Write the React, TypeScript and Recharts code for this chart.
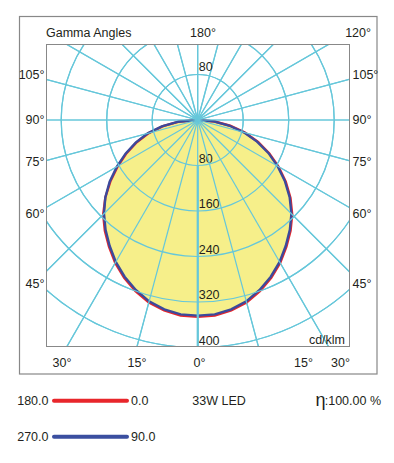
import React from 'react';
import { RadarChart, Radar, PolarGrid, PolarAngleAxis, PolarRadiusAxis } from 'recharts';

// gamma angles (deg) of the measured intensities, cd/klm
const gammaAngles = [0, 5, 10, 15, 20, 25, 30, 35, 40, 45, 50, 55, 60, 65, 70, 75, 80, 85, 90];
const c0 = [346, 345, 340, 332, 320, 306, 290, 272, 254, 235, 213, 189, 164, 139, 113, 86, 58, 30, 0];
const c180 = [346, 345, 340, 332, 320, 306, 290, 272, 254, 235, 212, 187, 162, 138, 114, 89, 62, 33, 0];
const c90 = [344, 343, 338, 330, 318, 304, 288, 270, 252, 233, 211, 187, 162, 137, 111, 84, 56, 28, 0];
const c270 = [344, 343, 338, 330, 318, 304, 288, 270, 252, 233, 212, 189, 164, 140, 116, 91, 64, 34, 0];

const radiusTicks = [80, 160, 240, 320, 400];
const gridAngles = [0, 15, 30, 45, 60, 75, 90, 105, 120, 135, 150, 165, 180, 195, 210, 225, 240, 255, 270, 285, 300, 315, 330, 345];

const sideLabels = ['105°', '90°', '75°', '60°', '45°'];
const bottomLabels = ['30°', '15°', '0°', '15°', '30°'];
const topLabels = ['180°', '120°'];

// one row per 5 deg around the full circle, 0 = straight down, going round to the right
const positions = Array.from({ length: 72 }, (_, i) => i * 5);
const rows = positions.map((pos) => {
  if (pos <= 90) {
    const k = gammaAngles.indexOf(pos);
    return { pos, red: c0[k], blue: c90[k] };
  }
  if (pos >= 270) {
    const k = gammaAngles.indexOf(360 - pos);
    return { pos, red: c180[k], blue: c270[k] };
  }
  return { pos, red: 0, blue: 0 };
});

const FONT = '"Liberation Sans", Arial, sans-serif';
const GRID = '#66c7da';
const TEXT = '#231f20';

const RadiusTick = (props: any) => {
  const { x, y, payload } = props;
  return (
    <text x={x + 1} y={y - 3} fontSize={12.5} fill={TEXT} fontFamily={FONT} textAnchor="start">
      {payload.value}
    </text>
  );
};

const layer: React.CSSProperties = { position: 'absolute', left: 46, top: 44, width: 304, height: 303, overflow: 'hidden' };

export default function App() {
  const sideY = [78.5, 124, 166, 217.5, 287.5];
  const bottomX = [62, 137, 199.5, 303.5, 340.5];

  return (
    <div style={{ position: 'absolute', left: 0, top: 0, width: 394, height: 463, background: '#fff' }}>
      <div style={layer}>
        <RadarChart
          width={304}
          height={303}
          data={rows}
          cx={151.7}
          cy={76}
          innerRadius={0}
          outerRadius={284.4}
          startAngle={-90}
          endAngle={270}
          margin={{ top: 0, right: 0, bottom: 0, left: 0 }}
        >
          <PolarAngleAxis
            dataKey="pos"
            type="number"
            domain={[0, 360]}
            tick={false}
            tickLine={false}
            axisLine={false}
          />
          <Radar dataKey="red" stroke="none" fill="#f6ef8a" fillOpacity={1} isAnimationActive={false} />
          <PolarGrid gridType="circle" polarAngles={gridAngles} stroke={GRID} strokeWidth={1.2} />
          <PolarRadiusAxis
            angle={-90}
            type="number"
            domain={[0, 500]}
            ticks={radiusTicks}
            tick={RadiusTick}
            tickLine={false}
            axisLine={{ stroke: GRID, strokeWidth: 1.8 }}
          />
          <Radar dataKey="red" stroke="#e8262b" strokeWidth={2.4} fill="none" fillOpacity={0} isAnimationActive={false} />
          <Radar dataKey="blue" stroke="#3b4a9c" strokeWidth={2.4} fill="none" fillOpacity={0} isAnimationActive={false} />
        </RadarChart>
      </div>

      {/* grid again on a transparent layer so it shows through the yellow */}
      <div style={layer}>
        <RadarChart
          width={304}
          height={303}
          data={rows}
          cx={151.7}
          cy={76}
          innerRadius={0}
          outerRadius={284.4}
          startAngle={-90}
          endAngle={270}
          margin={{ top: 0, right: 0, bottom: 0, left: 0 }}
        >
          <PolarAngleAxis dataKey="pos" type="number" domain={[0, 360]} tick={false} tickLine={false} axisLine={false} />
          <PolarGrid gridType="circle" polarAngles={gridAngles} stroke={GRID} strokeWidth={1.2} />
          <PolarRadiusAxis
            angle={-90}
            type="number"
            domain={[0, 500]}
            ticks={radiusTicks}
            tick={false}
            tickLine={false}
            axisLine={{ stroke: GRID, strokeWidth: 1.8 }}
          />
          <Radar dataKey="blue" stroke="none" fill="none" fillOpacity={0} isAnimationActive={false} />
        </RadarChart>
      </div>

      <svg
        width={394}
        height={463}
        style={{ position: 'absolute', left: 0, top: 0, pointerEvents: 'none' }}
        fontFamily={FONT}
        fontSize={12.5}
        fill={TEXT}
      >
        <rect x={19.5} y={16.5} width={357.5} height={357.5} fill="none" stroke="#888" strokeWidth={1.2} />
        <rect x={46.5} y={44.5} width={303} height={302} fill="none" stroke="#888" strokeWidth={1} />

        <text x={46} y={36.5}>Gamma Angles</text>
        <text x={203} y={36.5} textAnchor="middle">{topLabels[0]}</text>
        <text x={371} y={36.5} textAnchor="end">{topLabels[1]}</text>
        <text x={198.7} y={71}>80</text>

        {sideLabels.map((s, i) => (
          <text key={'l' + s} x={44.5} y={sideY[i]} textAnchor="end">{s}</text>
        ))}
        {sideLabels.map((s, i) => (
          <text key={'r' + s} x={352.5} y={sideY[i]} textAnchor="start">{s}</text>
        ))}
        {bottomLabels.map((s, i) => (
          <text key={'b' + i} x={bottomX[i]} y={366.5} textAnchor="middle">{s}</text>
        ))}
        <text x={345} y={343.5} textAnchor="end">cd/klm</text>

        <text x={48.5} y={405} textAnchor="end">180.0</text>
        <line x1={54} y1={400.7} x2={127} y2={400.7} stroke="#e8262b" strokeWidth={4} strokeLinecap="round" />
        <text x={131} y={405}>0.0</text>
        <text x={219} y={405} textAnchor="middle">33W LED</text>
        <text x={315.5} y={406} fontSize={18}>η</text>
        <text x={381} y={405} textAnchor="end">:100.00 %</text>

        <text x={48.5} y={441} textAnchor="end">270.0</text>
        <line x1={54} y1={436.7} x2={127} y2={436.7} stroke="#3b4fa0" strokeWidth={4} strokeLinecap="round" />
        <text x={131} y={441}>90.0</text>
      </svg>
    </div>
  );
}
